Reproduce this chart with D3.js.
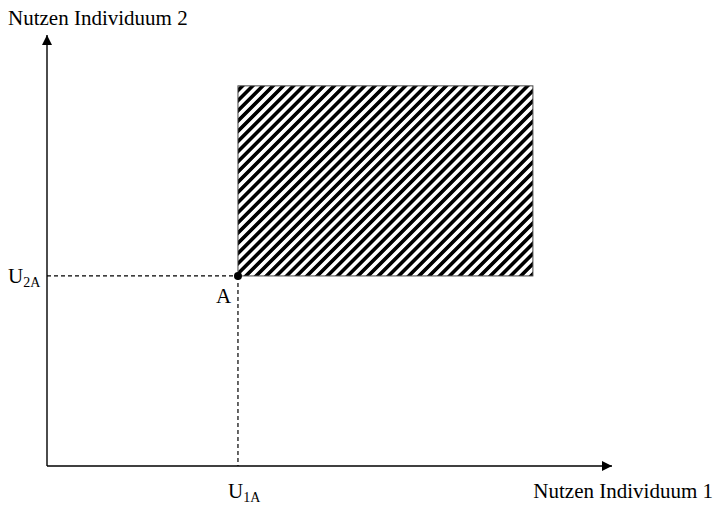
<!DOCTYPE html>
<html><head><meta charset="utf-8">
<script src="https://cdn.jsdelivr.net/npm/d3@7"></script>
<style>body{margin:0;background:#fff}svg{display:block}text{font-family:"Liberation Serif","Times New Roman",serif;fill:#000}</style>
</head><body><svg id="c" width="716" height="505"></svg>
<script>
// data
const xAxisLabel = ["Nutzen Individuum 1"];
const yAxisLabel = ["Nutzen Individuum 2"];
const pointA = [{name: "A", u1: 3.38, u2: 4.41}];
const regionX = [3.38, 8.6];
const regionY = [4.41, 8.82];
const tickLabels = [{axis: "x", base: "U", sub: "1A", v: 3.38}, {axis: "y", base: "U", sub: "2A", v: 4.41}];

const svg = d3.select("#c");
const x = d3.scaleLinear().domain([0, 10]).range([47, 612]);
const y = d3.scaleLinear().domain([0, 10]).range([466, 35]);

const defs = svg.append("defs");
const pat = defs.append("pattern").attr("id", "hatch").attr("patternUnits", "userSpaceOnUse")
  .attr("width", 7.2).attr("height", 7.2).attr("patternTransform", "rotate(45)");
pat.append("rect").attr("x", 0).attr("y", 0).attr("width", 3.6).attr("height", 7.2).attr("fill", "#000");
const mk = defs.append("marker").attr("id", "arr").attr("viewBox", "0 0 10 10").attr("refX", 10).attr("refY", 5)
  .attr("markerWidth", 10).attr("markerHeight", 10).attr("markerUnits", "userSpaceOnUse").attr("orient", "auto");
mk.append("path").attr("d", "M0,0L10,5L0,10Z").attr("fill", "#000");

// hatched region
svg.append("rect").attr("x", x(regionX[0])).attr("y", y(regionY[1]))
  .attr("width", x(regionX[1]) - x(regionX[0])).attr("height", y(regionY[0]) - y(regionY[1]))
  .attr("fill", "url(#hatch)").attr("stroke", "#444").attr("stroke-width", 1);

// axes
svg.append("line").attr("x1", x(0)).attr("y1", y(0)).attr("x2", x(10)).attr("y2", y(0))
  .attr("stroke", "#000").attr("stroke-width", 1.4).attr("marker-end", "url(#arr)");
svg.append("line").attr("x1", x(0)).attr("y1", y(0)).attr("x2", x(0)).attr("y2", y(10))
  .attr("stroke", "#000").attr("stroke-width", 1.4).attr("marker-end", "url(#arr)");

// dashed guides
pointA.forEach(p => {
  svg.append("line").attr("x1", x(0)).attr("y1", y(p.u2)).attr("x2", x(p.u1)).attr("y2", y(p.u2))
    .attr("stroke", "#000").attr("stroke-width", 1.2).attr("stroke-dasharray", "4,3");
  svg.append("line").attr("x1", x(p.u1)).attr("y1", y(p.u2)).attr("x2", x(p.u1)).attr("y2", y(0))
    .attr("stroke", "#000").attr("stroke-width", 1.2).attr("stroke-dasharray", "4,3");
  svg.append("circle").attr("cx", x(p.u1)).attr("cy", y(p.u2)).attr("r", 4).attr("fill", "#000");
  svg.append("text").attr("x", x(p.u1) - 22).attr("y", y(p.u2) + 27).attr("font-size", 21).text(p.name);
});

// tick labels
tickLabels.forEach(t => {
  const tx = t.axis === "x" ? x(t.v) - 10 : 8;
  const ty = t.axis === "x" ? 498 : y(t.v) + 7;
  const el = svg.append("text").attr("x", tx).attr("y", ty).attr("font-size", 21);
  el.append("tspan").text(t.base);
  el.append("tspan").attr("font-size", 14).attr("dy", 4).text(t.sub);
});

// axis titles
svg.append("text").attr("x", 8).attr("y", 25).attr("font-size", 21).text(yAxisLabel[0]);
svg.append("text").attr("x", 713).attr("y", 498).attr("text-anchor", "end").attr("font-size", 21).text(xAxisLabel[0]);
</script></body></html>
